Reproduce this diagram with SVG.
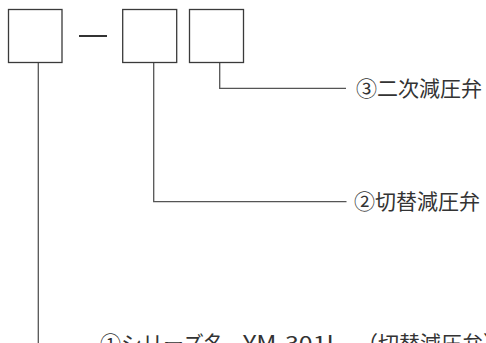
<svg xmlns="http://www.w3.org/2000/svg" width="486" height="343" viewBox="0 0 486 343">
<style>
.box{fill:#fff;stroke:#3a3a3a;stroke-width:1.3}
.conn{fill:none;stroke:#555;stroke-width:1.3}
.lbl{font-family:"Noto Sans CJK JP","Noto Sans",sans-serif;font-size:21px;fill:#333}
</style>
<rect width="486" height="343" fill="#fff"/>
<g id="connectors">
<polyline class="conn" points="219.7,62.5 219.7,88.3 346,88.3"/>
<polyline class="conn" points="153.7,62.5 153.7,201.7 346.5,201.7"/>
<polyline class="conn" points="38.3,62.5 38.3,345"/>
</g>
<g id="box1"><rect class="box" x="8.5" y="9.5" width="53.5" height="53"/></g>
<g id="dash"><line x1="79" y1="36" x2="107" y2="36" stroke="#333" stroke-width="2"/></g>
<g id="box2"><rect class="box" x="122.7" y="9.5" width="54" height="53"/></g>
<g id="box3"><rect class="box" x="189.5" y="9.5" width="54" height="53"/></g>
<g id="label3"><text class="lbl" x="356" y="96">③二次減圧弁</text></g>
<g id="label2"><text class="lbl" x="354" y="209">②切替減圧弁</text></g>
<g id="label1"><text class="lbl" y="350.5"><tspan x="100">①シリーズ名</tspan><tspan x="243" textLength="97" lengthAdjust="spacingAndGlyphs">YM-301L</tspan><tspan x="357">（切替減圧弁）</tspan></text></g>
</svg>
